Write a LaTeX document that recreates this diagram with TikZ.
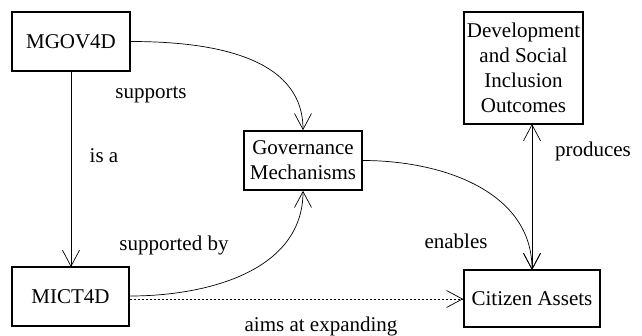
\documentclass[tikz,border=0pt]{standalone}
\usepackage{fontspec}
\setmainfont{Liberation Serif}
\newfontfamily\tmsfont{Liberation Serif}
\usetikzlibrary{arrows.meta}
\begin{document}
\begin{tikzpicture}[x=1pt,y=-1pt,
  every node/.style={font=\tmsfont\fontsize{21}{25}\selectfont},
  box/.style={draw,line width=1.6pt,inner sep=0pt,align=center},
  lbl/.style={inner sep=0pt},
  conn/.style={line width=0.7pt,-{Straight Barb[length=16pt,width=17pt]}},
  dconn/.style={conn,dash pattern=on 2pt off 2pt}]
\useasboundingbox (0,0) rectangle (642,335);
\node[box,minimum width=118pt,minimum height=59pt] (mgov) at (71,41.5) {MGOV4D};
\node[box,minimum width=117pt,minimum height=59pt] (mict) at (70.5,296.5) {MICT4D};
\node[box,minimum width=118pt,minimum height=59pt] (gov) at (303,160.5) {Governance\\Mechanisms};
\node[box,minimum width=119pt,minimum height=112pt] (dev) at (523.5,68) {Development\\and Social\\Inclusion\\Outcomes};
\node[box,minimum width=136pt,minimum height=57pt] (cit) at (532,298.5) {Citizen Assets};
\coordinate (devb) at (532,124);
\coordinate (citt) at (532,270);
\coordinate (mgovb) at (71,71);
\coordinate (mictt) at (71,267);
\draw[conn] (mgov.east) to[out=0,in=90] (gov.north);
\draw[conn] (mgovb) -- (mictt);
\draw[conn] (mict.east) ++(0,-0.5) to[out=0,in=-90] (gov.south);
\draw[conn] (gov.east) to[out=0,in=90] (citt);
\draw[conn,{Straight Barb[length=16pt,width=17pt]}-{Straight Barb[length=16pt,width=17pt]}] (citt) -- (devb);
\draw[dconn] (mict.east) ++(0,2.5) -- (cit.west |- 0,299);
\node[lbl] (l1) at (151,95) {supports};
\node[lbl] (l2) at (104,156) {is a};
\node[lbl] (l3) at (174,245) {supported by};
\node[lbl] (l4) at (456,241) {enables};
\node[lbl] (l5) at (593,151) {produces};
\node[lbl] (l6) at (321,326) {aims at expanding};
\end{tikzpicture}
\end{document}
